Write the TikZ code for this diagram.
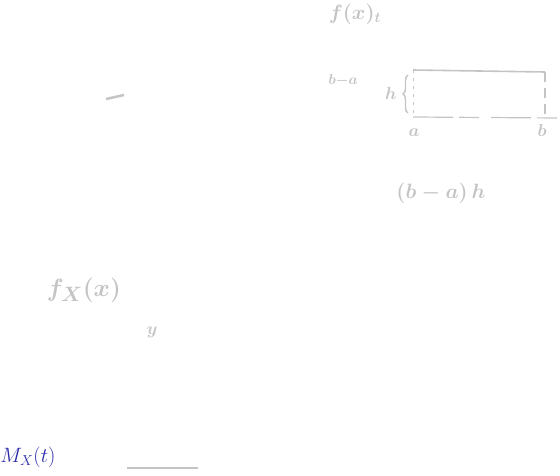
\documentclass[tikz,border=0pt]{standalone}
\usepackage{amsmath,amssymb}
\usepackage{tikz}
\usetikzlibrary{decorations.pathreplacing, positioning, calc}
\definecolor{pencil}{HTML}{C4C4C4}
\definecolor{inkblue}{HTML}{2A2AA8}

\begin{document}
\begin{tikzpicture}[x=1pt, y=-1pt,
    note/.style={text=pencil, inner sep=0pt, font=\fontsize{16}{18}\selectfont\boldmath},
    big/.style={note, font=\fontsize{30}{34}\selectfont\boldmath},
    stroke/.style={draw=pencil, line width=1.6pt},
    edge/.style={draw=pencil, line width=1.2pt, dash pattern=on 40pt off 6pt on 20pt off 12pt}
]
    \useasboundingbox (0,0) rectangle (560,476);

    % axis label and width
    \node[note, font=\fontsize{21}{24}\selectfont\boldmath] (fx) at (355,14) {$f(x)_{t}$};
    \node[note, font=\fontsize{14}{16}\selectfont\boldmath] (wd) at (343,80) {$b{-}a$};

    % the rectangle
    \coordinate (tl) at (413,70);
    \coordinate (tr) at (545,72);
    \coordinate (bl) at (413,117);
    \coordinate (br) at (545,117);
    \coordinate (ax) at (558,118);
    \draw[stroke] (tl) -- (tr);
    \draw[stroke, dash pattern=on 10pt off 6pt] (tr) -- (br);
    \draw[stroke, line width=1pt, dash pattern=on 3pt off 5pt] (tl) -- (bl);
    \draw[edge] (bl) -- (ax);
    \draw[stroke, line width=1.4pt, decorate, decoration={brace, amplitude=5pt}]
        (408,113) -- (408,75);
    \node[note] (h) at (391,94) {$h$};
    \node[note] (a) at (414,133) {$a$};
    \node[note] (b) at (542,131) {$b$};

    % area
    \node[note, font=\fontsize{20}{23}\selectfont\boldmath] (area) at (441,193) {$(b-a)\,h$};

    % left side notes
    \draw[stroke, line width=2.5pt] (106,99) -- (124,95);
    \node[big] (pdf) at (84,290) {$f_X(x)$};
    \node[note, font=\fontsize{18}{20}\selectfont\boldmath] (y) at (152,332) {$y$};

    \node[text=inkblue, inner sep=0pt, font=\fontsize{21}{24}\selectfont] (mgf) at (28,457) {$M_X(t)$};
    \coordinate (l1) at (127,468);
    \coordinate (l2) at (198,468);
    \draw[stroke, line width=2.5pt] (l1) -- (l2);
\end{tikzpicture}
\end{document}
